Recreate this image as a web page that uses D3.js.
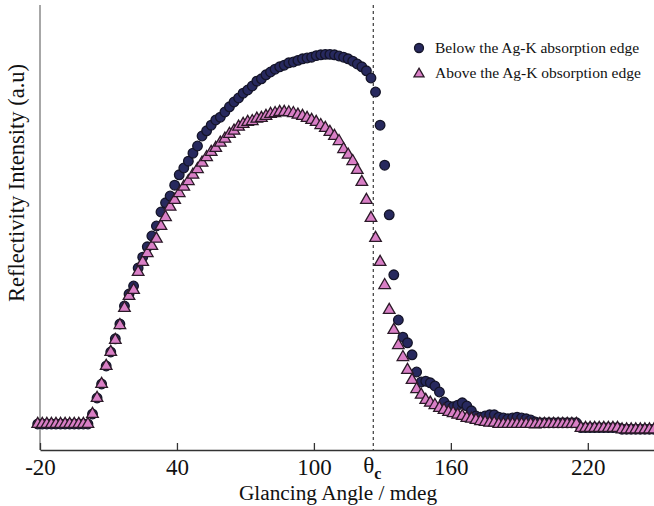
<!DOCTYPE html>
<html><head><meta charset="utf-8">
<script src="https://cdn.jsdelivr.net/npm/d3@7"></script>
<style>body{margin:0;background:#fff} svg{display:block}</style>
</head><body><svg id="c" width="654" height="506"></svg>
<script>
// Glancing angle (mdeg)
const angles = [-21,-19,-17,-15,-13,-11,-9,-7,-5,-3,-1,1,
 3,5,7,9,11,13,15,17,19,21,23,25,27,29,31,33,35,37,39,41,43,45,47,49,
 51,53,55,57,59,61,63,65,67,69,71,73,75,77,79,81,83,85,87,89,91,93,95,97,99,
 101,103,105,107,109,111,113,115,117,119,121,123,125,127,129,131,133,135,137,139,
 141,143,145,147,149,151,153,155,157,159,161,163,165,167,169,171,173,175,177,179,
 181,183,185,187,189,191,193,195,197,199,201,203,205,207,209,211,213,215,
 217,219,221,223,225,227,229,231,233,235,237,239,241,243,245,247,249];
// Reflectivity (a.u.) below the Ag-K absorption edge (circles)
const belowEdge = [6.5,6.5,6.5,6.5,6.5,6.5,6.5,6.5,6.5,6.5,6.5,6.5,
 9,13,16.5,21,24.5,27.8,31.5,36,39,41,45.5,48.2,50.8,53.5,56,59.5,61.8,63.5,66.2,68.8,70.5,72.2,74.2,76,
 78.5,79.8,81.2,82.5,83.2,84.5,85.8,87,88,89.2,90,91,92.2,92.8,93.8,94.5,95.2,95.8,96.2,96.8,97,97.4,97.8,98,98.2,
 98.6,98.8,98.9,98.9,98.8,98.5,98.2,97.8,97.2,96.5,95.8,94.8,93,89.5,81.2,71.2,58.8,43.8,32.5,28.2,
 26.8,23.8,19.5,17,17.2,16.8,16,14.5,12,11,10.8,11.2,11.8,11,9.8,8.5,8.2,8.5,8.8,8.8,
 8.2,8,7.8,8,8.2,8,7.8,7.5,7,6.8,6.8,6.8,6.8,6.8,6.8,6.8,6.8,6.8,
 5.6,5.6,5.6,5.6,5.6,5.6,5.6,5.6,5.6,5.2,5.2,5.2,5.2,5.2,5.2,5.2,5.2];
// Reflectivity (a.u.) above the Ag-K absorption edge (triangles)
const aboveEdge = [6.5,6.5,6.5,6.5,6.5,6.5,6.5,6.5,6.5,6.5,6.5,6.5,
 9,13,16.5,21,24.5,27.5,31.2,35.5,38.5,40,44.5,47,49.2,51,52.8,56,58.2,60.8,62.5,64.2,65.8,67.2,68.8,70.2,
 71.8,73.2,74.5,75.5,76.8,77.8,79,79.8,80.8,81.5,82,82.2,82.8,83,83.5,84,84.2,84.5,84.5,84.4,84.2,83.8,83.5,83,82.5,
 82,81.2,80.5,79.5,78.5,77.2,75.2,73.8,72.2,70,67,62.5,58,53,47,41.2,35,30,26.2,23.2,
 20,17.5,15.2,13.8,12.5,11.8,11.2,10.5,10,9.5,9.2,8.8,8.5,8,7.8,7.5,7.2,7,6.8,6.8,
 6.5,6.5,6.5,6.5,6.5,6.5,6.5,6.5,6.4,6.5,6.5,6.5,6.5,6.5,6.5,6.5,6.5,6.5,
 5.5,5.5,5.5,5.5,5.5,5.5,5.5,5.5,5.5,5.1,5.1,5.1,5.1,5.1,5.1,5.1,5.1];
const xTicks = [-20, 40, 100, 160, 220];
const criticalAngle = 126;
const seriesNames = ["Below the Ag-K absorption edge", "Above the Ag-K obsorption edge"];
const xTitle = "Glancing Angle / mdeg";
const yTitle = "Reflectivity Intensity (a.u)";

const FONT = "'Liberation Serif','Times New Roman',serif";
const svg = d3.select("#c");
const x = d3.scaleLinear().domain([-20, 249]).range([40, 654]);
const y = d3.scaleLinear().domain([0, 100]).range([450, 50]);

// y axis line (no ticks)
svg.append("line").attr("x1", 40).attr("x2", 40).attr("y1", 5).attr("y2", 450)
  .attr("stroke", "#8a8a8a").attr("stroke-width", 1.5);

// x axis
const xa = svg.append("g").attr("transform", "translate(0,450)")
  .call(d3.axisBottom(x).tickValues(xTicks).tickFormat(d => String(d))
    .tickSizeInner(-7).tickSizeOuter(0).tickPadding(9));
xa.select(".domain").attr("stroke", "#333").attr("stroke-width", 1.3);
xa.selectAll(".tick line").attr("stroke", "#333").attr("stroke-width", 1.3);
xa.selectAll(".tick text").attr("font-family", FONT).attr("font-size", 23).attr("fill", "#111");

// critical angle dashed line
svg.append("line").attr("x1", x(criticalAngle)).attr("x2", x(criticalAngle))
  .attr("y1", 5).attr("y2", 450).attr("stroke", "#111").attr("stroke-width", 1)
  .attr("stroke-dasharray", "3,3");
const tc = svg.append("text").attr("x", x(criticalAngle) - 10).attr("y", 473)
  .attr("font-family", FONT).attr("font-size", 23).attr("fill", "#111");
tc.append("tspan").text("θ");
tc.append("tspan").attr("dy", 6).attr("font-size", 16).attr("font-weight", "bold").text("c");

// axis titles
svg.append("text").attr("x", 338).attr("y", 500).attr("text-anchor", "middle")
  .attr("font-family", FONT).attr("font-size", 21.3).attr("fill", "#111").text(xTitle);
svg.append("text").attr("transform", "translate(24,183) rotate(-90)").attr("text-anchor", "middle")
  .attr("font-family", FONT).attr("font-size", 22.5).attr("fill", "#111").text(yTitle);

const circFill = "#27295e", circStroke = "#141428";
const triFill = "#d97fc6", triStroke = "#2b1a28";
const tri = d3.symbol(d3.symbolTriangle, 58);

// circles (below edge)
svg.append("g").selectAll("circle").data(angles.map((a, i) => [a, belowEdge[i]]))
  .join("circle").attr("cx", d => x(d[0])).attr("cy", d => y(d[1])).attr("r", 4.8)
  .attr("fill", circFill).attr("stroke", circStroke).attr("stroke-width", 1.3);

// triangles (above edge)
svg.append("g").selectAll("path").data(angles.map((a, i) => [a, aboveEdge[i]]))
  .join("path").attr("d", tri).attr("transform", d => `translate(${x(d[0])},${y(d[1])})`)
  .attr("fill", triFill).attr("stroke", triStroke).attr("stroke-width", 1.3);

// legend
const lg = svg.append("g");
lg.append("circle").attr("cx", 419).attr("cy", 48).attr("r", 4.5)
  .attr("fill", circFill).attr("stroke", circStroke).attr("stroke-width", 1.3);
lg.append("path").attr("d", d3.symbol(d3.symbolTriangle, 44)).attr("transform", "translate(419,74)")
  .attr("fill", triFill).attr("stroke", triStroke).attr("stroke-width", 1.3);
seriesNames.forEach((s, i) => {
  lg.append("text").attr("x", 435).attr("y", 48 + i * 25).attr("dy", "0.35em")
    .attr("font-family", FONT).attr("font-size", 15.5).attr("fill", "#111").text(s);
});
</script></body></html>
